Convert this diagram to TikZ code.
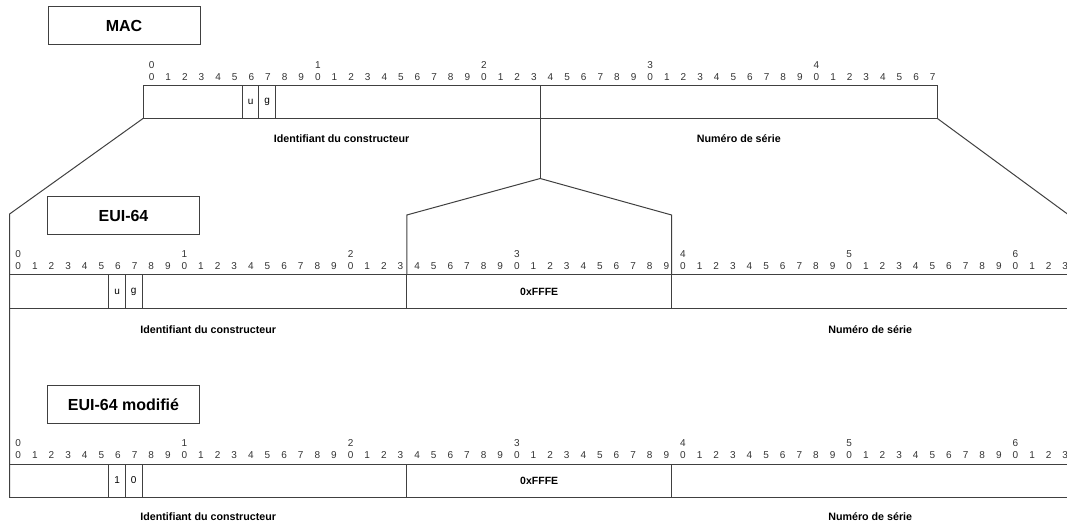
\documentclass[tikz,border=0pt]{standalone}
\usepackage{fontspec}
\setmainfont{Liberation Sans}
\usetikzlibrary{positioning,calc}
% one field of an address row: name, left x, top y, first bit, bits, text
\newcommand{\bitcell}[6]{\node [cell, minimum width={#5*16.55*1pt}] (#1) at ({#2+#4*16.55},#3) {#6}}
% bit numbers above a row: prefix, left x, top y, last bit, last tens
\newcommand{\bitruler}[5]{%
  \foreach \i in {0,...,#4} {
    \pgfmathtruncatemacro{\dgt}{mod(\i,10)}
    \node [bitnum] (#1u\i) at ({#2+8.6+\i*16.62},{#3-8.5}) {\dgt};
  }
  \foreach \i in {0,...,#5}
    \node [bitnum] (#1t\i) at ({#2+8.6+\i*166.2},{#3-20.5}) {\i};
}
\tikzset{
  link/.style={draw=black!75, line width=1pt},
  cell/.style={draw=black!75, line width=1pt, anchor=north west, minimum height=33pt,
    inner sep=0pt, outer sep=0pt, font=\fontsize{10}{12}\selectfont},
  bitnum/.style={inner sep=0pt, text=black!80, font=\fontsize{10}{12}\selectfont},
  titlebox/.style={draw=black!75, line width=1pt, minimum width=152pt, minimum height=38pt,
    font=\fontsize{16}{19}\selectfont\bfseries},
  fieldlabel/.style={inner sep=0pt, font=\fontsize{10.7}{13}\selectfont\bfseries},
}
\begin{document}
\begin{tikzpicture}[x=1pt,y=-1pt]
\useasboundingbox (0,0) rectangle (1067,526);
\clip (0,0) rectangle (1067,526);

% MAC
\node [titlebox] (mac) at (124,26) {MAC};
\bitruler{m}{143}{85.5}{47}{4}
\bitcell{mac0}{143}{85.5}{0}{6}{};
\bitcell{macU}{143}{85.5}{6}{1}{u};
\bitcell{macG}{143}{85.5}{7}{1}{g};
\bitcell{mac1}{143}{85.5}{8}{16}{};
\bitcell{macS}{143}{85.5}{24}{24}{};
\node [fieldlabel] (macOUI) at ($(mac0.south west)!0.5!(mac1.south east)+(0,20)$) {Identifiant du constructeur};
\node [fieldlabel] (macNS) at ($(macS.south west)!0.5!(macS.south east)+(0,20)$) {Numéro de série};

% EUI-64
\node [titlebox] (eui) at (123.5,215.5) {EUI-64};
\bitruler{e}{9.6}{275}{63}{6}
\bitcell{eui0}{9.6}{275}{0}{6}{};
\bitcell{euiU}{9.6}{275}{6}{1}{u};
\bitcell{euiG}{9.6}{275}{7}{1}{g};
\bitcell{eui1}{9.6}{275}{8}{16}{};
\bitcell{euiF}{9.6}{275}{24}{16}{\fontsize{10.5}{12}\selectfont\bfseries 0xFFFE};
\bitcell{euiS}{9.6}{275}{40}{24}{};
\node [fieldlabel] (euiOUI) at ($(eui0.south west)!0.5!(eui1.south east)+(0,22)$) {Identifiant du constructeur};
\node [fieldlabel] (euiNS) at ($(euiS.south west)!0.5!(euiS.south east)+(0,22)$) {Numéro de série};

% EUI-64 modifie
\node [titlebox] (mod) at (123.5,404.5) {EUI-64 modifié};
\bitruler{d}{9.6}{464}{63}{6}
\bitcell{mod0}{9.6}{464}{0}{6}{};
\bitcell{modU}{9.6}{464}{6}{1}{1};
\bitcell{modG}{9.6}{464}{7}{1}{0};
\bitcell{mod1}{9.6}{464}{8}{16}{};
\bitcell{modF}{9.6}{464}{24}{16}{\fontsize{10.5}{12}\selectfont\bfseries 0xFFFE};
\bitcell{modS}{9.6}{464}{40}{24}{};
\node [fieldlabel] (modOUI) at ($(mod0.south west)!0.5!(mod1.south east)+(0,20)$) {Identifiant du constructeur};
\node [fieldlabel] (modNS) at ($(modS.south west)!0.5!(modS.south east)+(0,20)$) {Numéro de série};

% expansion lines
\coordinate (eL) at (9.6,214);
\coordinate (eR) at (1068.8,215);
\coordinate (apex) at ($(mac1.south east)+(0,60)$);
\coordinate (fL) at (euiF.north west |- 0,215);
\coordinate (fR) at (euiF.north east |- 0,215);
\draw [link] (mac0.south west) -- (eL) -- (mod0.south west);
\draw [link] (macS.south east) -- (eR) -- (modS.south east);
\draw [link] (mac1.south east) -- (apex);
\draw [link] (euiF.north west) -- (fL) -- (apex) -- (fR) -- (euiF.north east);

\end{tikzpicture}
\end{document}
